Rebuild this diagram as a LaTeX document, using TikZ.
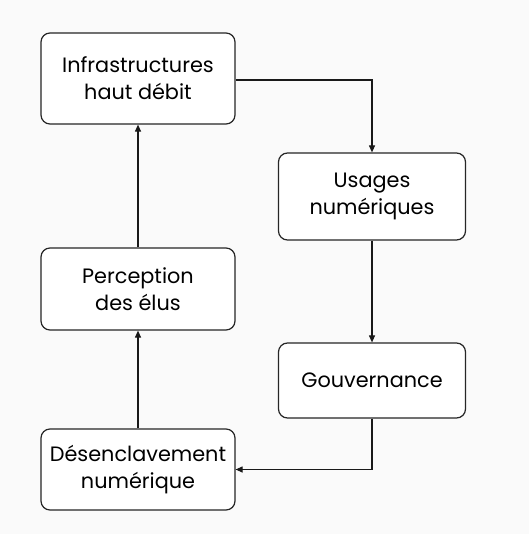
\documentclass[tikz,border=0pt]{standalone}
\usepackage{fontspec}
\setmainfont{Poppins}
\usetikzlibrary{arrows.meta}
\begin{document}
\begin{tikzpicture}[x=1pt,y=-1pt,
  stage/.style={draw=black!85, line width=1.2pt, rounded corners=9pt, fill=white,
    align=center, font=\fontsize{20.8}{27}\selectfont, inner sep=0pt},
  flow/.style={draw=black!90, line width=1.1pt, -{Triangle[length=7pt,width=6pt]}}]
  \fill[black!2] (0,0) rectangle (529,534);
  \useasboundingbox (0,0) rectangle (529,534);
  % left column
  \node[stage, minimum width=194pt, minimum height=91pt] (infra) at (138,78.5) {Infrastructures\\haut débit};
  \node[stage, minimum width=194pt, minimum height=82pt] (perc) at (138,289) {Perception\\des élus};
  \node[stage, minimum width=194pt, minimum height=81pt] (desen) at (138,469.5) {Désenclavement\\numérique};
  % right column
  \node[stage, minimum width=187pt, minimum height=87pt] (usages) at (372,196.5) {Usages\\numériques};
  \node[stage, minimum width=187pt, minimum height=75pt] (gouv) at (372,380.5) {Gouvernance};
  % loop connectors
  \draw[flow] (infra.east |- 0,80) -| (usages.north);
  \draw[flow] (usages) -- (gouv);
  \draw[flow] (gouv.south) |- (desen.east);
  \draw[flow] (desen) -- (perc);
  \draw[flow] (perc) -- (infra);
\end{tikzpicture}
\end{document}
